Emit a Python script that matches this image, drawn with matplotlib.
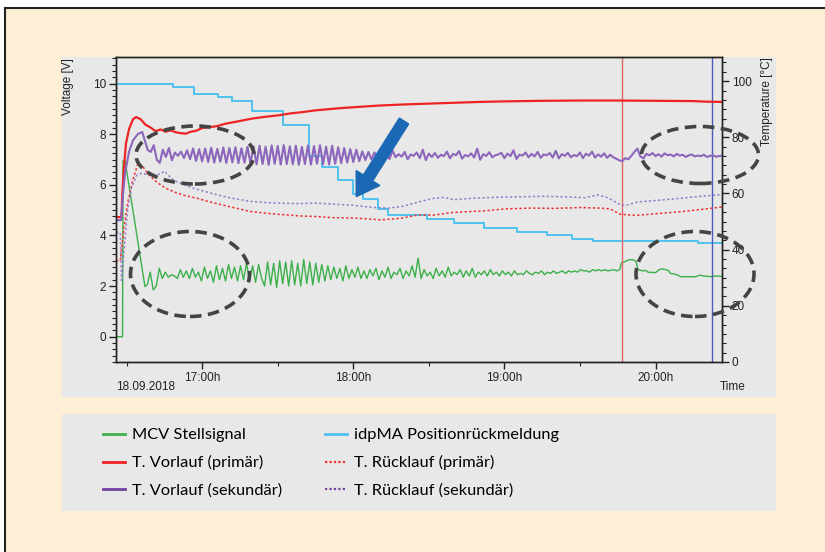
import numpy as np
import matplotlib
matplotlib.use("Agg")
import matplotlib.pyplot as plt
from matplotlib.ticker import MultipleLocator, FixedLocator
from matplotlib.patches import Rectangle, Ellipse, FancyArrow
from matplotlib.lines import Line2D

W, H = 825, 552

# time in minutes after 16:00
blue_t = [25.8, 48.5, 56.8, 66.4, 71.9, 79.9, 92.2, 102.5, 107.7, 114.0, 120.0, 124.0,
          129.9, 133.9, 149.4, 160.0, 172.0, 185.0, 197.0, 207.0, 215.0, 257.0, 266.4]
blue_v = [10.0, 9.85, 9.6, 9.45, 9.3, 8.9, 8.35, 7.15, 6.7, 6.2, 5.65, 5.45,
          5.05, 4.8, 4.65, 4.5, 4.3, 4.15, 4.0, 3.87, 3.8, 3.72, 3.72]

green_start_t = [25.8, 28.4, 28.6, 29.4, 37.3]
green_start_v = [0.0, 0.0, 6.95, 6.95, 1.98]
green_osc = [2.05, 2.55, 1.85, 2.0, 2.7, 2.3, 2.55, 2.35, 2.45, 2.4, 2.3, 2.65, 2.35, 2.6, 2.3, 2.7, 2.35, 2.55,
             2.2, 2.75, 2.3, 2.6, 2.15, 2.8, 2.25, 2.7, 2.2, 2.85, 2.3, 2.75, 2.2, 2.8, 2.25, 2.9, 2.2, 2.8, 2.15, 2.85, 2.3,
             2.0, 2.95, 2.05, 2.9, 1.95, 3.0, 2.1, 2.95, 2.0, 3.0, 2.05, 2.9, 2.0, 3.05, 2.1, 2.95, 2.05, 2.9, 2.15, 2.85,
             2.2, 2.8, 2.25, 2.75, 2.3, 2.7, 2.2, 2.8, 2.3, 2.65, 2.35, 2.75, 2.3, 2.6,
             2.3, 2.65, 2.4, 2.7, 2.25, 2.6, 2.35, 2.75, 2.3, 2.55, 2.45, 2.7, 2.3, 2.6, 2.4, 2.8, 2.35, 3.1, 2.3, 2.65,
             2.4, 2.55, 2.3, 2.7, 2.4, 2.6, 2.35, 2.75, 2.4, 2.55, 2.45, 2.65, 2.35, 2.6, 2.4, 2.7, 2.35, 2.55, 2.45, 2.6,
             2.4, 2.65, 2.45, 2.55, 2.4, 2.6,
             2.45, 2.55, 2.4, 2.6, 2.45, 2.5, 2.45, 2.6, 2.5, 2.45, 2.55, 2.5, 2.6, 2.45, 2.55, 2.5, 2.6, 2.5, 2.55, 2.6,
             2.5, 2.6, 2.55, 2.6, 2.55, 2.65, 2.6, 2.6, 2.55, 2.65, 2.6, 2.65, 2.6, 2.65, 2.6, 2.62, 2.65, 2.6, 2.65]
green_end_t = [226.5, 227.5, 228.5, 229.5, 231.0, 232.3, 233.0, 235.0, 236.0, 237.0, 240.0, 241.5, 243.0,
               245.0, 246.0, 248.5, 250.0, 256.0, 257.5, 259.0, 262.0, 264.0, 266.4]
green_end_v = [2.92, 2.95, 3.0, 3.04, 3.04, 2.98, 2.65, 2.6, 2.62, 2.55, 2.53, 2.65, 2.68,
               2.62, 2.5, 2.45, 2.37, 2.37, 2.43, 2.4, 2.37, 2.4, 2.38]

red_t = [25.8, 28.0, 28.3, 29.0, 29.8, 31.0, 32.6, 33.8, 35.5, 37.5, 39.5, 41.5, 43.5, 45.5, 47.5, 49.5,
         51.5, 53.5, 55.5, 57.5, 60, 63, 66, 69, 72, 76, 80, 85, 90, 95, 100, 105, 110, 115, 120,
         130, 140, 150, 160, 170, 180, 195, 210, 225, 240, 255, 260, 266.4]
red_v = [51.6, 51.6, 60, 70, 78, 83, 86.5, 87.2, 86.5, 84.5, 83.5, 82.2, 82.8, 82.0, 82.5, 81.8,
         81.5, 81.3, 82.0, 82.3, 83.3, 83.6, 84.0, 84.8, 85.3, 86.0, 86.7, 87.3, 87.8, 88.5, 89.0, 89.6, 90.0, 90.4, 90.7,
         91.3, 91.7, 92.0, 92.3, 92.6, 92.8, 93.0, 93.1, 93.1, 93.0, 92.9, 92.7, 92.6]

purple_start_t = [25.8, 27.8, 28.6, 29.4, 31.0, 32.6, 34.5, 36.2, 37.2]
purple_start_v = [50.5, 50.5, 60, 67.3, 75, 79, 81.2, 81.9, 79]
purple_osc = [75.5, 74.8, 77.2, 72.0, 70.9, 75.6, 73.0, 76.2, 71.8, 74.6, 73.4, 74.9, 72.6, 75.4, 72.2, 76.0, 71.6, 75.8,
              71.4, 76.0, 71.2, 76.3, 71.0, 75.9, 71.3, 76.4, 70.9, 76.2, 71.1, 76.5, 70.8, 76.1, 71.0, 76.6, 70.7,
              76.8, 70.4, 77.0, 70.5, 76.7, 70.2, 77.1, 70.6, 76.9, 70.3, 77.2, 70.5, 76.8, 70.4, 77.0, 70.2, 76.6, 70.5,
              77.1, 70.3, 76.9, 70.6, 77.2, 70.4, 76.7, 70.3, 77.0, 70.6, 76.5, 70.8, 76.2, 71.0, 75.8, 71.2, 75.6, 71.5,
              75.0, 71.9, 74.8, 72.1,
              74.6, 72.4, 74.9, 72.8, 74.2, 72.3, 75.3, 72.9, 74.0, 73.1, 74.8, 72.2, 73.9, 73.4, 74.6, 72.6, 75.6, 71.9,
              74.2, 73.0, 74.4, 72.7, 73.8, 73.3, 74.9, 72.5, 74.1, 73.6, 75.1, 72.4, 73.7, 73.2, 74.3, 72.8, 76.0, 72.0,
              74.0, 73.4, 74.7, 72.9, 73.6, 73.9, 74.5, 72.6, 74.2, 73.3, 75.4, 72.3, 73.8, 73.5, 74.6, 72.9, 74.1, 73.2,
              74.8, 72.7, 73.9, 73.6, 74.4, 72.8, 75.2, 72.5, 74.0, 73.4, 74.5, 72.9, 73.7, 73.3, 74.6, 72.6, 74.2, 73.5,
              74.9, 72.8, 73.9, 73.1, 74.3, 72.7, 73.8, 72.9, 72.4,
              71.8, 71.5, 72.6, 72.2, 73.4, 74.8, 76.0, 73.2, 72.5, 74.1, 73.6, 74.4, 73.3, 74.0, 73.1, 74.3, 73.6, 73.9,
              73.2, 74.1, 73.5, 73.8, 73.0, 73.6, 73.9, 73.2, 73.5, 73.3, 73.8, 73.0, 73.4, 73.6, 73.1, 73.3, 73.5]

red_dot_t = [25.8, 27.5, 29, 30.5, 32.5, 34.6, 36.5, 39, 42, 45.3, 49, 53, 58, 63, 70, 79, 85, 90, 99, 105, 112,
             119, 125, 131, 139, 146, 152, 159, 165, 172, 180, 190, 200, 210, 218, 222, 226, 232, 240, 250, 258, 266.4]
red_dot_v = [36, 36, 48, 57, 65, 70.8, 69.5, 66.5, 64, 62, 60.5, 59.3, 58.3, 57, 55.5, 53.6, 53, 52.6, 52, 51.8, 51.4,
             51.3, 51, 50.6, 51.2, 52.4, 52.3, 53.2, 53.5, 53.8, 54.5, 54.8, 54.7, 55, 54.8, 54.5, 52.6, 52.2, 52.8,
             53.5, 54.3, 55.2]

purple_dot_t = [25.8, 27.5, 28.0, 29, 30.5, 32, 34, 36, 38, 41, 43.5, 45, 46.5, 49, 52, 56, 60, 66, 72, 79, 85, 92,
                99, 105, 112, 120, 128, 134, 140, 146, 152, 156, 160, 167, 175, 185, 195, 205, 212, 217, 221, 226,
                228, 233, 240, 250, 258, 266.4]
purple_dot_v = [46, 46, 28.5, 40, 55, 62, 66.5, 67.2, 66.8, 66.5, 67, 68, 66.5, 64.5, 63.5, 62, 61, 59.5, 58.3, 57.2,
                56.8, 56.5, 56.4, 56.6, 56.2, 55.8, 55, 54.8, 55.5, 57, 58.3, 58.6, 57.8, 58.3, 58.6, 58.8, 59, 58.8,
                58.5, 59.5, 58.5, 56, 55.7, 57, 57.5, 58.3, 59, 59.6]

cursor_red = 226.5
cursor_blue = 262.3

hour_ticks = [60, 120, 180, 240]
hour_labels = ["17:00h", "18:00h", "19:00h", "20:00h"]

labels = ["MCV Stellsignal", "T. Vorlauf (primär)", "T. Vorlauf (sekundär)",
          "idpMA Positionrückmeldung", "T. Rücklauf (primär)", "T. Rücklauf (sekundär)"]

c_green = "#3cb04a"
c_blue = "#4fc1ee"
c_red = "#ee2424"
c_purple = "#8c66bb"
c_purple_leg = "#7040a0"
c_red_dot = "#ee3030"
c_purple_dot = "#9a7ccc"

cream = "#fdefd5"
panel = "#e8e8e8"


def fx(x):
    return x / W


def fy(y):
    return 1 - y / H


plt.rcParams["font.family"] = ["Liberation Sans", "DejaVu Sans"]

fig = plt.figure(figsize=(W / 100, H / 100), dpi=100, facecolor="white")

# background, frame and grey panels
fig.patches.append(Rectangle((fx(5), 0), 1 - fx(5), fy(8), transform=fig.transFigure,
                             facecolor=cream, edgecolor="none", zorder=-10))
fig.add_artist(Line2D([fx(5), 1], [fy(8), fy(8)], color="#222222", lw=1.5, transform=fig.transFigure))
fig.add_artist(Line2D([fx(5), fx(5)], [0, fy(8)], color="#222222", lw=1.5, transform=fig.transFigure))
fig.patches.append(Rectangle((fx(62), fy(397)), fx(776) - fx(62), fy(57) - fy(397), transform=fig.transFigure,
                             facecolor=panel, edgecolor="none", zorder=-5))
fig.patches.append(Rectangle((fx(62), fy(511)), fx(776) - fx(62), fy(414) - fy(511), transform=fig.transFigure,
                             facecolor=panel, edgecolor="none", zorder=-5))

ax = fig.add_axes([fx(116), fy(362), fx(722) - fx(116), fy(57) - fy(362)])
ax.set_facecolor(panel)
ax2 = ax.twinx()

green_t = green_start_t + list(np.linspace(38.2, 225.8, len(green_osc))) + green_end_t
green_v = green_start_v + green_osc + green_end_v
purple_t = purple_start_t + list(np.linspace(38.4, 266.4, len(purple_osc)))
purple_v = purple_start_v + purple_osc

ax.step(blue_t, blue_v, where="post", color=c_blue, lw=1.4)
ax.plot(green_t, green_v, color=c_green, lw=1.0)

ax2.plot(red_dot_t, red_dot_v, color=c_red_dot, lw=1.1, ls=(0, (1.5, 1.5)))
ax2.plot(purple_dot_t, purple_dot_v, color=c_purple_dot, lw=1.1, ls=(0, (1.5, 1.5)))
ax2.plot(red_t, red_v, color=c_red, lw=1.6)
ax2.plot(purple_t, purple_v, color=c_purple, lw=1.5)

ax.axvline(cursor_red, color="#e06666", lw=1.0)
ax.axvline(cursor_blue, color="#4a5cb5", lw=1.0)

ax.set_xlim(25.8, 266.4)
ax.set_ylim(-1.0, 11.05)
ax2.set_ylim(0, 108.6)

ax.xaxis.set_major_locator(FixedLocator(hour_ticks))
ax.set_xticklabels(hour_labels)
ax.xaxis.set_minor_locator(MultipleLocator(30))
ax.yaxis.set_major_locator(MultipleLocator(2))
ax.yaxis.set_minor_locator(MultipleLocator(0.25))
ax2.yaxis.set_major_locator(MultipleLocator(20))
ax2.yaxis.set_minor_locator(MultipleLocator(20 / 6))

for a in (ax, ax2):
    a.tick_params(which="major", direction="out", length=5, width=1, colors="#222222", labelsize=8.5, pad=2)
    a.tick_params(which="minor", direction="out", length=3, width=0.8, colors="#222222")
    for s in a.spines.values():
        s.set_color("#222222")
        s.set_linewidth(1.0)

fig.text(fx(68), fy(58), "Voltage [V]", rotation=90, ha="center", va="top", fontsize=8.5, color="#222222")
fig.text(fx(767), fy(57), "Temperature [°C]", rotation=90, ha="center", va="top", fontsize=8.5, color="#222222")
fig.text(fx(116), fy(387), "18.09.2018", ha="left", va="center", fontsize=8.5, color="#222222")
fig.text(fx(720), fy(387), "Time", ha="left", va="center", fontsize=8.5, color="#222222")

# dashed ellipses
for cx, cy, w, h in [(195, 155, 118, 58), (190, 274, 119, 85), (700, 155, 117, 57), (695, 274, 118, 85)]:
    fig.add_artist(Ellipse((fx(cx), fy(cy)), w / W, h / H, transform=fig.transFigure, fill=False,
                           edgecolor="#444444", lw=2.6, ls=(0, (3.2, 1.8)), zorder=20))

# arrow
fig.add_artist(FancyArrow(404, H - 121, -36, -57, width=11, head_width=28, head_length=22,
                          length_includes_head=False, transform=None, color="#1b69b4", zorder=21))

handles = [
    Line2D([], [], color=c_green, lw=2),
    Line2D([], [], color=c_red, lw=2),
    Line2D([], [], color=c_purple_leg, lw=2),
    Line2D([], [], color=c_blue, lw=2),
    Line2D([], [], color=c_red_dot, lw=1.6, ls=(0, (1, 1))),
    Line2D([], [], color=c_purple_leg, lw=1.6, ls=(0, (1, 1))),
]
fig.legend(handles, labels, ncol=2, loc="upper left", bbox_to_anchor=(fx(103), fy(428)),
           frameon=False, borderpad=0, borderaxespad=0, handlelength=1.34, handletextpad=0.43,
           columnspacing=2.6, labelspacing=0.78, prop={"family": ["Lato", "Liberation Sans"], "size": 11.8})

fig.savefig("out.png", dpi=100, facecolor="white")
